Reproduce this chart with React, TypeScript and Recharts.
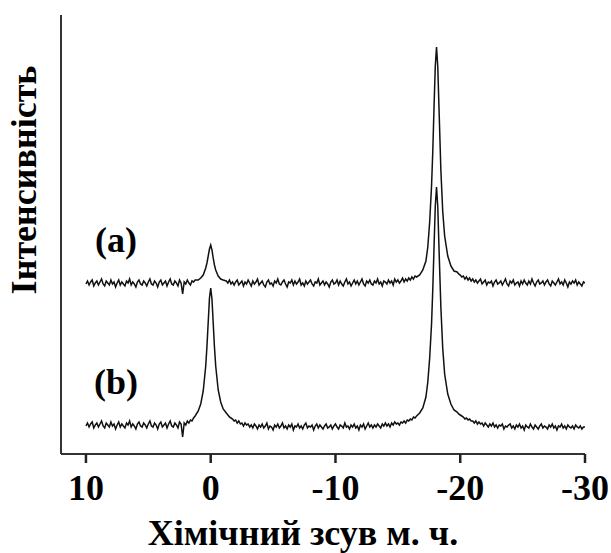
import { LineChart, Line, XAxis, YAxis } from "recharts"

// chemical shift, ppm (finer sampling around the two resonances)
const shifts = [
  10, 9.875, 9.75, 9.625, 9.5, 9.375, 9.25, 9.125,
  9, 8.875, 8.75, 8.625, 8.5, 8.375, 8.25, 8.125,
  8, 7.875, 7.75, 7.625, 7.5, 7.375, 7.25, 7.125,
  7, 6.875, 6.75, 6.625, 6.5, 6.375, 6.25, 6.125,
  6, 5.875, 5.75, 5.625, 5.5, 5.375, 5.25, 5.125,
  5, 4.875, 4.75, 4.625, 4.5, 4.375, 4.25, 4.125,
  4, 3.875, 3.75, 3.625, 3.5, 3.375, 3.25, 3.125,
  3, 2.875, 2.75, 2.625, 2.5, 2.375, 2.25, 2.125,
  2, 1.875, 1.75, 1.625, 1.5, 1.375, 1.25,
  1, 0.8, 0.6, 0.4, 0.3, 0.2, 0.1, 0, -0.1, -0.2, -0.3, -0.4, -0.6, -0.8, -1,
  -1.25, -1.375, -1.5, -1.625, -1.75, -1.875,
  -2, -2.125, -2.25, -2.375, -2.5, -2.625, -2.75, -2.875,
  -3, -3.125, -3.25, -3.375, -3.5, -3.625, -3.75, -3.875,
  -4, -4.125, -4.25, -4.375, -4.5, -4.625, -4.75, -4.875,
  -5, -5.125, -5.25, -5.375, -5.5, -5.625, -5.75, -5.875,
  -6, -6.125, -6.25, -6.375, -6.5, -6.625, -6.75, -6.875,
  -7, -7.125, -7.25, -7.375, -7.5, -7.625, -7.75, -7.875,
  -8, -8.125, -8.25, -8.375, -8.5, -8.625, -8.75, -8.875,
  -9, -9.125, -9.25, -9.375, -9.5, -9.625, -9.75, -9.875,
  -10, -10.125, -10.25, -10.375, -10.5, -10.625, -10.75, -10.875,
  -11, -11.125, -11.25, -11.375, -11.5, -11.625, -11.75, -11.875,
  -12, -12.125, -12.25, -12.375, -12.5, -12.625, -12.75, -12.875,
  -13, -13.125, -13.25, -13.375, -13.5, -13.625, -13.75, -13.875,
  -14, -14.125, -14.25, -14.375, -14.5, -14.625, -14.75, -14.875,
  -15, -15.125, -15.25, -15.375, -15.5, -15.625, -15.75, -15.875,
  -16, -16.125, -16.25, -16.375, -16.5,
  -16.75, -17, -17.25, -17.4, -17.55, -17.7, -17.8, -17.9, -18, -18.1, -18.2, -18.3,
  -18.45, -18.6, -18.75, -19, -19.25, -19.5,
  -19.75, -19.875,
  -20, -20.125, -20.25, -20.375, -20.5, -20.625, -20.75, -20.875,
  -21, -21.125, -21.25, -21.375, -21.5, -21.625, -21.75, -21.875,
  -22, -22.125, -22.25, -22.375, -22.5, -22.625, -22.75, -22.875,
  -23, -23.125, -23.25, -23.375, -23.5, -23.625, -23.75, -23.875,
  -24, -24.125, -24.25, -24.375, -24.5, -24.625, -24.75, -24.875,
  -25, -25.125, -25.25, -25.375, -25.5, -25.625, -25.75, -25.875,
  -26, -26.125, -26.25, -26.375, -26.5, -26.625, -26.75, -26.875,
  -27, -27.125, -27.25, -27.375, -27.5, -27.625, -27.75, -27.875,
  -28, -28.125, -28.25, -28.375, -28.5, -28.625, -28.75, -28.875,
  -29, -29.125, -29.25, -29.375, -29.5, -29.625, -29.75, -29.875,
  -30,
]

// spectrum (a), upper trace
const traceA = [
  170, 173, 169, 172, 174, 168, 171, 173,
  169, 172, 175, 170, 168, 173, 171, 169,
  174, 170, 172, 167, 171, 174, 169, 172,
  170, 168, 173, 171, 175, 169, 172, 170,
  167, 172, 174, 170, 169, 173, 171, 168,
  172, 175, 170, 169, 173, 171, 167, 172,
  174, 169, 171, 173, 168, 172, 175, 170,
  169, 173, 171, 168, 174, 171, 160, 172,
  170, 174, 171, 169, 173, 172, 174,
  174, 176, 179, 186, 191, 198, 205, 209, 204, 196, 189, 184, 178, 175, 174,
  173, 171, 174, 170, 172, 169,
  172, 174, 169, 171, 173, 168, 172, 170,
  174, 171, 168, 173, 170, 172, 175, 169,
  171, 173, 169, 167, 172, 174, 170, 171,
  168, 173, 171, 175, 170, 169, 172, 174,
  170, 167, 172, 171, 174, 169, 173, 170,
  172, 175, 169, 171, 168, 173, 170, 172,
  174, 170, 168, 172, 171, 175, 169, 171,
  173, 169, 172, 170, 167, 172, 174, 170,
  171, 174, 169, 173, 170, 168, 172, 175,
  170, 172, 168, 171, 174, 170, 173, 169,
  172, 175, 170, 168, 173, 171, 174, 170,
  169, 173, 171, 175, 170, 172, 168, 173,
  172, 170, 174, 171, 173, 169, 175, 172,
  174, 171, 173, 176, 172, 175, 173, 176,
  174, 177, 175, 178, 177,
  179, 184, 193, 207, 232, 268, 303, 347, 388, 407, 387, 345,
  283, 242, 218, 198, 188, 183,
  182, 180,
  179, 177, 178, 175, 177, 174, 176, 173,
  175, 172, 174, 171, 173, 175, 170, 172,
  174, 169, 172, 171, 173, 168, 172, 174,
  170, 171, 173, 169, 172, 175, 170, 168,
  173, 171, 174, 169, 171, 172, 168, 173,
  170, 174, 171, 169, 173, 170, 175, 171,
  168, 172, 174, 170, 171, 173, 169, 172,
  174, 170, 168, 173, 171, 169, 172, 175,
  170, 172, 169, 174, 171, 167, 172, 170,
  173, 171, 174, 169, 172, 170, 168, 172,
  171,
]

// spectrum (b), lower trace
const traceB = [
  28, 31, 27, 30, 32, 26, 29, 31,
  27, 30, 33, 28, 26, 31, 29, 27,
  32, 28, 30, 25, 29, 32, 27, 30,
  28, 26, 31, 29, 33, 27, 30, 28,
  25, 30, 32, 28, 27, 31, 29, 26,
  30, 33, 28, 27, 31, 29, 25, 30,
  32, 27, 29, 31, 26, 30, 33, 28,
  27, 31, 29, 26, 32, 30, 17, 31,
  29, 33, 31, 34, 33, 36, 38,
  43, 50, 63, 88, 108, 132, 156, 166, 155, 131, 107, 88, 64, 52, 45,
  41, 39, 37, 36, 35, 33,
  34, 31, 33, 30, 31, 28, 31, 29,
  30, 27, 29, 26, 30, 28, 25, 29,
  27, 30, 26, 28, 31, 25, 28, 27,
  24, 29, 27, 30, 26, 28, 31, 26,
  28, 25, 29, 27, 30, 24, 28, 27,
  30, 26, 28, 25, 29, 31, 26, 28,
  27, 29, 24, 28, 30, 26, 29, 27,
  25, 28, 30, 26, 27, 29, 25, 28,
  30, 27, 25, 29, 28, 26, 31, 27,
  28, 25, 29, 27, 30, 26, 28, 24,
  29, 27, 30, 25, 28, 31, 27, 29,
  26, 29, 27, 30, 28, 26, 30, 28,
  31, 28, 30, 27, 31, 29, 32, 30,
  31, 29, 32, 31, 33, 31, 34, 33,
  35, 34, 37, 36, 38,
  41, 46, 57, 72, 96, 130, 165, 207, 248, 267, 247, 205,
  146, 105, 80, 60, 50, 44,
  42, 40,
  39, 38, 37, 35, 36, 34, 35, 33,
  33, 31, 33, 30, 32, 30, 31, 28,
  31, 29, 27, 30, 28, 31, 27, 29,
  26, 29, 28, 30, 25, 28, 27, 29,
  30, 26, 28, 25, 29, 27, 30, 26,
  28, 24, 29, 27, 26, 30, 27, 25,
  29, 27, 25, 28, 30, 26, 28, 27,
  25, 29, 27, 30, 26, 28, 24, 28,
  27, 30, 26, 28, 25, 29, 27, 26,
  28, 25, 29, 27, 26, 28, 25, 27,
  27,
]

const xTicks = [10, 0, -10, -20, -30]
const xTitle = "Хімічний зсув м. ч."
const yTitle = "Інтенсивність"
const traceLabels = ["(a)", "(b)"]

const data = shifts.map((s, i) => ({ shift: s, a: traceA[i], b: traceB[i] }))

const font = "'Liberation Serif', 'Times New Roman', serif"

export default function App() {
  return (
    <div style={{ position: "absolute", left: 0, top: 0, width: 611, height: 553, background: "#fff" }}>
      <LineChart width={611} height={553} data={data} margin={{ top: 15, right: 26, left: 0, bottom: 0 }}>
        <XAxis
          dataKey="shift"
          type="number"
          domain={[-30, 12]}
          reversed
          allowDataOverflow
          ticks={xTicks}
          height={99}
          tickSize={9}
          tickMargin={11}
          axisLine={{ stroke: "#333", strokeWidth: 2 }}
          tickLine={{ stroke: "#222", strokeWidth: 2.5 }}
          tick={{ fontSize: 36, fontWeight: "bold", fill: "#000", fontFamily: font }}
        />
        <YAxis
          domain={[0, 439]}
          width={61}
          tick={false}
          tickLine={false}
          axisLine={{ stroke: "#333", strokeWidth: 2 }}
        />
        <Line type="linear" dataKey="a" stroke="#111" strokeWidth={1.5} dot={false} isAnimationActive={false} />
        <Line type="linear" dataKey="b" stroke="#111" strokeWidth={1.5} dot={false} isAnimationActive={false} />
      </LineChart>
      <svg width={611} height={553} style={{ position: "absolute", left: 0, top: 0, pointerEvents: "none" }}>
        <g fontFamily={font} fontWeight="bold" fontSize={36} fill="#000">
          <text x={24} y={180} textAnchor="middle" dominantBaseline="central" transform="rotate(-90 24 180)">
            {yTitle}
          </text>
          <text x={303} y={545} textAnchor="middle">{xTitle}</text>
          <text x={116} y={252} textAnchor="middle">{traceLabels[0]}</text>
          <text x={116} y={394} textAnchor="middle">{traceLabels[1]}</text>
        </g>
      </svg>
    </div>
  )
}
